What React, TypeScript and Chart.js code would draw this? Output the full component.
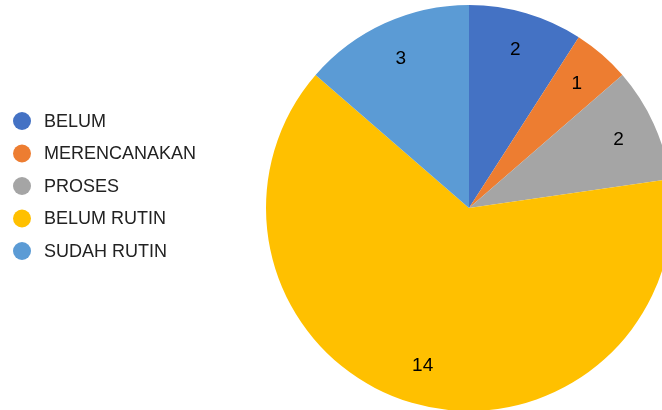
import React, { useEffect, useRef } from "react";
import { Chart, registerables } from "chart.js";

Chart.register(...registerables);

const categories = ["BELUM", "MERENCANAKAN", "PROSES", "BELUM RUTIN", "SUDAH RUTIN"];
const values = [2, 1, 2, 14, 3];
const colors = ["#4472C4", "#ED7D31", "#A5A5A5", "#FFC000", "#5B9BD5"];

const FONT = "'Liberation Sans', Arial, sans-serif";

const labelPlugin = {
  id: "sliceLabels",
  afterDatasetsDraw(chart: any) {
    const ctx = chart.ctx;
    const meta = chart.getDatasetMeta(0);
    ctx.save();
    ctx.fillStyle = "#000000";
    ctx.font = `19px ${FONT}`;
    ctx.textAlign = "center";
    ctx.textBaseline = "middle";
    meta.data.forEach((arc: any, i: number) => {
      const p = arc.getProps(["x", "y", "startAngle", "endAngle", "outerRadius"], true);
      const mid = (p.startAngle + p.endAngle) / 2;
      const r = p.outerRadius * 0.81;
      ctx.fillText(String(values[i]), p.x + Math.cos(mid) * r, p.y + Math.sin(mid) * r);
    });
    ctx.restore();
  },
};

const legendPlugin = {
  id: "leftLegend",
  afterDraw(chart: any) {
    const ctx = chart.ctx;
    ctx.save();
    ctx.font = `18px ${FONT}`;
    ctx.textAlign = "left";
    ctx.textBaseline = "middle";
    categories.forEach((c, i) => {
      const y = 121 + i * 32.5;
      ctx.fillStyle = colors[i];
      ctx.beginPath();
      ctx.arc(22, y, 9, 0, Math.PI * 2);
      ctx.fill();
      ctx.fillStyle = "#222222";
      ctx.fillText(c, 44, y + 1);
    });
    ctx.restore();
  },
};

export default function App() {
  const ref = useRef<HTMLCanvasElement | null>(null);
  useEffect(() => {
    document.body.style.margin = "0";
    document.body.style.overflow = "hidden";
    const chart = new Chart(ref.current as HTMLCanvasElement, {
      type: "pie",
      data: {
        labels: categories,
        datasets: [
          {
            data: values,
            backgroundColor: colors,
            borderWidth: 0,
            radius: 203,
          } as any,
        ],
      },
      options: {
        responsive: false,
        animation: false,
        layout: { padding: { left: 276, right: 0, top: 6, bottom: 0 } },
        plugins: {
          legend: { display: false },
          tooltip: { enabled: false },
        },
      },
      plugins: [labelPlugin, legendPlugin],
    });
    return () => chart.destroy();
  }, []);
  return (
    <div style={{ position: "fixed", left: 0, top: 0, width: 662, height: 410, background: "#fff" }}>
      <canvas ref={ref} width={662} height={410} />
    </div>
  );
}
